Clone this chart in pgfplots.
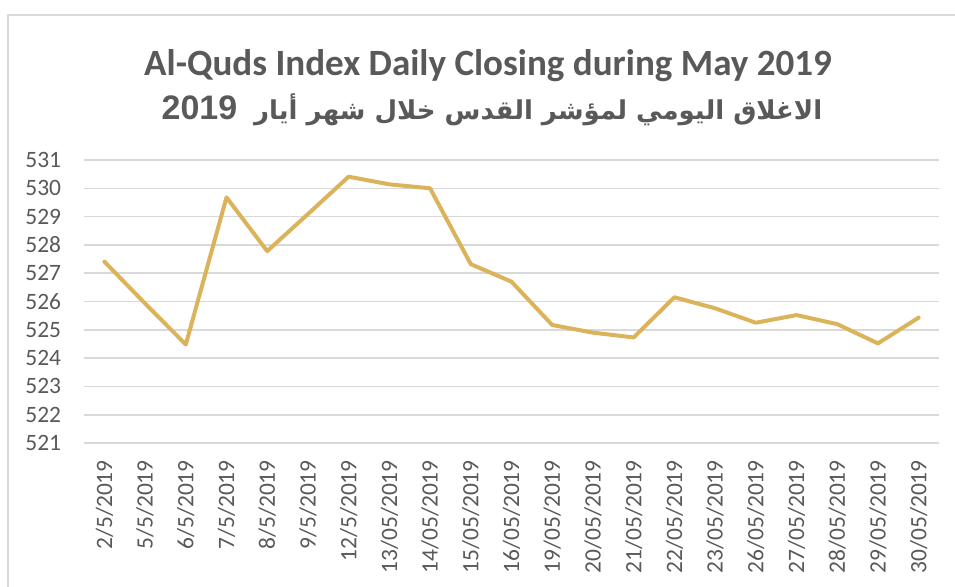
\documentclass[border=0pt]{standalone}
\usepackage{fontspec}
\setmainfont{Carlito}
\newfontfamily\arabicfont[Script=Arabic]{DejaVu Sans}
\newfontfamily\libsans{Liberation Sans}
\TeXXeTstate=1
\usepackage{pgfplots}
\pgfplotsset{compat=1.18}
\definecolor{txtgray}{RGB}{89,89,89}
\definecolor{gridgray}{RGB}{217,217,217}
\definecolor{gold}{RGB}{219,179,90}
\begin{document}
\begin{tikzpicture}
\useasboundingbox (0,0) rectangle (716.25pt,439.5pt);
\draw[gridgray, line width=1.4pt] (6pt,-10pt) -- (6pt,428pt) -- (730pt,428pt);
\node[anchor=base, text=txtgray, font=\fontsize{27.8}{32}\selectfont\bfseries] at (366pt,382.5pt) {Al-Quds Index Daily Closing during May 2019};
\node[anchor=base, text=txtgray, font=\fontsize{19.5}{24}\selectfont\bfseries] at (369pt,349.5pt) {\arabicfont\beginR الاغلاق اليومي لمؤشر القدس خلال شهر أيار\hspace{0.3em} \beginL{\libsans\fontsize{25.5}{28}\selectfont\bfseries 2019}\endL\endR};
\begin{axis}[
  at={(63pt,107.25pt)}, anchor=south west,
  scale only axis, width=641.25pt, height=212.25pt,
  xmin=-0.5, xmax=20.5, ymin=521, ymax=531,
  axis line style={draw=none},
  major tick length=0pt,
  ytick={521,522,...,531},
  ymajorgrids, grid style={gridgray, line width=1.2pt},
  xtick={0,...,20},
  xticklabels={2/5/2019,5/5/2019,6/5/2019,7/5/2019,8/5/2019,9/5/2019,12/5/2019,13/05/2019,14/05/2019,15/05/2019,16/05/2019,19/05/2019,20/05/2019,21/05/2019,22/05/2019,23/05/2019,26/05/2019,27/05/2019,28/05/2019,29/05/2019,30/05/2019},
  xticklabel style={rotate=90, anchor=east, inner sep=0pt, xshift=-12.75pt, font=\fontsize{17.6}{20}\selectfont, text=txtgray},
  yticklabel style={anchor=east, inner sep=0pt, xshift=-17pt, font=\fontsize{17.6}{20}\selectfont, text=txtgray},
  /pgf/number format/assume math mode=true,
  clip=false,
]
\addplot[gold, line width=3pt, line join=round, line cap=round] coordinates {
(0,527.41) (1,525.93) (2,524.48) (3,529.68) (4,527.78) (5,529.09) (6,530.41)
(7,530.14) (8,530.0) (9,527.32) (10,526.7) (11,525.17) (12,524.9) (13,524.73)
(14,526.15) (15,525.76) (16,525.25) (17,525.52) (18,525.2) (19,524.52) (20,525.43)
};
\end{axis}
\end{tikzpicture}
\end{document}
